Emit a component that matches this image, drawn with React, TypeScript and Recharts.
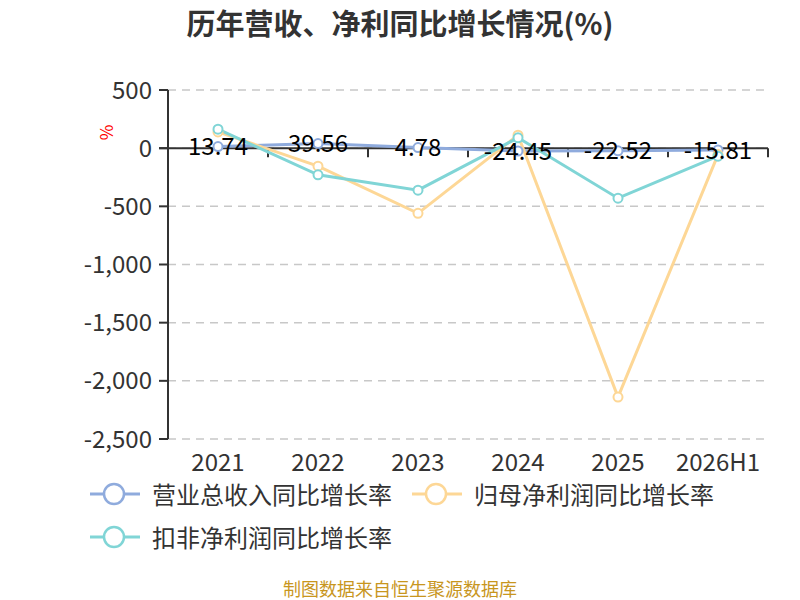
import { LineChart, Line, XAxis, YAxis, CartesianGrid, ReferenceLine, LabelList } from "recharts";

const years = ["2021", "2022", "2023", "2024", "2025", "2026H1"];
const revenueGrowth = [13.74, 39.56, 4.78, -24.45, -22.52, -15.81];
const netProfitGrowth = [140, -155, -560, 112, -2140, -55];
const deductedGrowth = [163, -229, -361, 89, -430, -69];
const yTicks = [500, 0, -500, -1000, -1500, -2000, -2500];

const data = years.map((year, i) => ({
  year,
  revenue: revenueGrowth[i],
  netProfit: netProfitGrowth[i],
  deducted: deductedGrowth[i],
}));

const FONT = '"Noto Sans CJK SC", "Noto Sans", sans-serif';
const BLUE = "#8fabdd";
const YELLOW = "#fdd796";
const TEAL = "#80d5d6";

const legendItems = [
  { name: "营业总收入同比增长率", color: BLUE, left: 90, top: 494 },
  { name: "归母净利润同比增长率", color: YELLOW, left: 412, top: 494 },
  { name: "扣非净利润同比增长率", color: TEAL, left: 90, top: 537 },
];

function dot(color: string) {
  return { r: 4.5, fill: "#fff", stroke: color, strokeWidth: 2 };
}

function RevenueLabel(props: any) {
  const { x, y, value } = props;
  return (
    <text x={x} y={y - 2} textAnchor="middle" dominantBaseline="central" fontSize={24} fill="#000" fontFamily={FONT}>
      {value}
    </text>
  );
}

// zero axis line with ticks at category boundaries
function ZeroAxis(props: any) {
  const { x1, x2, y1 } = props;
  const n = years.length;
  const step = (x2 - x1) / n;
  return (
    <g>
      <line x1={x1 - 9} y1={y1} x2={x2} y2={y1} stroke="#333" strokeWidth={2} />
      {years.map((_, k) => (
        <line key={k} x1={x1 + step * (k + 1)} y1={y1} x2={x1 + step * (k + 1)} y2={y1 + 9} stroke="#333" strokeWidth={2} />
      ))}
    </g>
  );
}

export default function App() {
  return (
    <div style={{ position: "absolute", left: 0, top: 0, width: 800, height: 600, background: "#fff", fontFamily: FONT }}>
      <div style={{ position: "absolute", top: 1, width: 800, textAlign: "center", fontSize: 29, fontWeight: "bold", color: "#333", lineHeight: "42px" }}>
        历年营收、净利同比增长情况(%)
      </div>
      <div
        style={{
          position: "absolute",
          left: 98,
          top: 120,
          color: "red",
          fontSize: 17,
          transform: "rotate(-90deg)",
        }}
      >
        %
      </div>
      <LineChart width={800} height={480} data={data} margin={{ top: 90, right: 32, bottom: 0, left: 0 }}>
        <CartesianGrid vertical={false} stroke="#c8c8c8" strokeDasharray="8 6" strokeWidth={1.5} />
        <XAxis
          dataKey="year"
          height={41}
          padding={{ left: 50, right: 50 }}
          axisLine={false}
          tickLine={false}
          tickSize={0}
          tickMargin={15}
          tick={{ fontSize: 24, fill: "#333", fontFamily: FONT }}
          interval={0}
        />
        <XAxis xAxisId="b" dataKey="year" hide />
        <YAxis
          width={168}
          domain={[-2500, 500]}
          ticks={yTicks}
          interval={0}
          tickFormatter={(v: number) => v.toLocaleString("en-US")}
          tick={{ fontSize: 24, fill: "#333", fontFamily: FONT }}
          axisLine={{ stroke: "#333", strokeWidth: 2 }}
          tickLine={{ stroke: "#333", strokeWidth: 2 }}
          tickSize={9}
          tickMargin={7}
        />
        <ReferenceLine xAxisId="b" y={0} shape={ZeroAxis} />
        <Line dataKey="revenue" stroke={BLUE} strokeWidth={3} dot={dot(BLUE)} isAnimationActive={false} />
        <Line dataKey="netProfit" stroke={YELLOW} strokeWidth={3} dot={dot(YELLOW)} isAnimationActive={false} />
        <Line dataKey="deducted" stroke={TEAL} strokeWidth={3} dot={dot(TEAL)} isAnimationActive={false} />
        <Line dataKey="revenue" stroke="none" dot={false} legendType="none" isAnimationActive={false}>
          <LabelList dataKey="revenue" content={RevenueLabel} />
        </Line>
      </LineChart>
      {legendItems.map((item) => (
        <div key={item.name} style={{ position: "absolute", left: item.left, top: item.top - 12, height: 24, display: "flex", alignItems: "center" }}>
          <svg width={50} height={24} style={{ display: "block" }}>
            <line x1={0} y1={12} x2={50} y2={12} stroke={item.color} strokeWidth={3} />
            <circle cx={24} cy={12} r={10} fill="#fff" stroke={item.color} strokeWidth={2.5} />
          </svg>
          <span style={{ marginLeft: 12, fontSize: 24, lineHeight: "24px", color: "#333", whiteSpace: "nowrap" }}>{item.name}</span>
        </div>
      ))}
      <div style={{ position: "absolute", top: 577, width: 800, textAlign: "center", fontSize: 18, lineHeight: "22px", color: "#c8961e" }}>
        制图数据来自恒生聚源数据库
      </div>
    </div>
  );
}
